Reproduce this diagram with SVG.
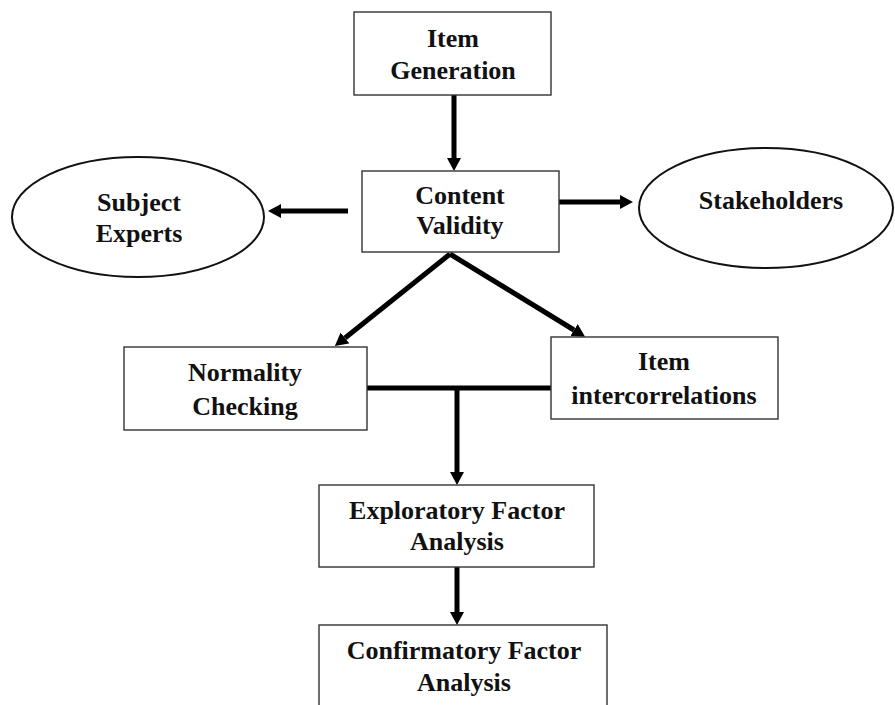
<svg xmlns="http://www.w3.org/2000/svg" width="895" height="705" viewBox="0 0 895 705">
<style>
.box{fill:#fff;stroke:#333;stroke-width:1.4}
.ell{fill:#fff;stroke:#111;stroke-width:2}
.t{font-weight:bold;font-size:26px;fill:#111;text-anchor:middle}
.c{stroke:#000;stroke-width:5;fill:none}
</style>
<defs>
<marker id="ah" markerUnits="userSpaceOnUse" markerWidth="14" markerHeight="14" refX="0" refY="7" orient="auto">
<path d="M0,0 L13,7 L0,14 z" fill="#000"/>
</marker>
</defs>
<rect width="895" height="705" fill="#fff"/>
<g id="connectors">
<line class="c" x1="454" y1="95" x2="454" y2="158" marker-end="url(#ah)"/>
<line class="c" x1="348" y1="211" x2="281" y2="211" marker-end="url(#ah)"/>
<line class="c" x1="559" y1="202" x2="620" y2="202" marker-end="url(#ah)"/>
<line class="c" x1="450" y1="254" x2="345" y2="338" marker-end="url(#ah)"/>
<line class="c" x1="450" y1="254" x2="574" y2="330" marker-end="url(#ah)"/>
<line class="c" x1="367" y1="388" x2="551" y2="388"/>
<line class="c" x1="457" y1="388" x2="457" y2="472" marker-end="url(#ah)"/>
<line class="c" x1="457" y1="567" x2="457" y2="612" marker-end="url(#ah)"/>
</g>
<g font-family="'Liberation Serif', Tinos, 'Times New Roman', 'DejaVu Serif', serif">
<g id="item-generation">
<rect class="box" x="354" y="12" width="197" height="83"/>
<text class="t" x="453" y="47">Item</text>
<text class="t" x="453" y="79">Generation</text>
</g>
<g id="content-validity">
<rect class="box" x="362" y="171" width="197" height="81"/>
<text class="t" x="460" y="204">Content</text>
<text class="t" x="460" y="234">Validity</text>
</g>
<g id="subject-experts">
<ellipse class="ell" cx="138" cy="217" rx="126" ry="60"/>
<text class="t" x="139" y="211">Subject</text>
<text class="t" x="139" y="242">Experts</text>
</g>
<g id="stakeholders">
<ellipse class="ell" cx="766" cy="208" rx="127" ry="60"/>
<text class="t" x="771" y="209">Stakeholders</text>
</g>
<g id="normality-checking">
<rect class="box" x="124" y="347" width="243" height="83"/>
<text class="t" x="245" y="381">Normality</text>
<text class="t" x="245" y="415">Checking</text>
</g>
<g id="item-intercorrelations">
<rect class="box" x="551" y="337" width="227" height="82"/>
<text class="t" x="664" y="370">Item</text>
<text class="t" x="664" y="404">intercorrelations</text>
</g>
<g id="efa">
<rect class="box" x="319" y="485" width="275" height="82"/>
<text class="t" x="457" y="519">Exploratory Factor</text>
<text class="t" x="457" y="550">Analysis</text>
</g>
<g id="cfa">
<rect class="box" x="319" y="625" width="288" height="82"/>
<text class="t" x="464" y="659">Confirmatory Factor</text>
<text class="t" x="464" y="691">Analysis</text>
</g>
</g>
</svg>
